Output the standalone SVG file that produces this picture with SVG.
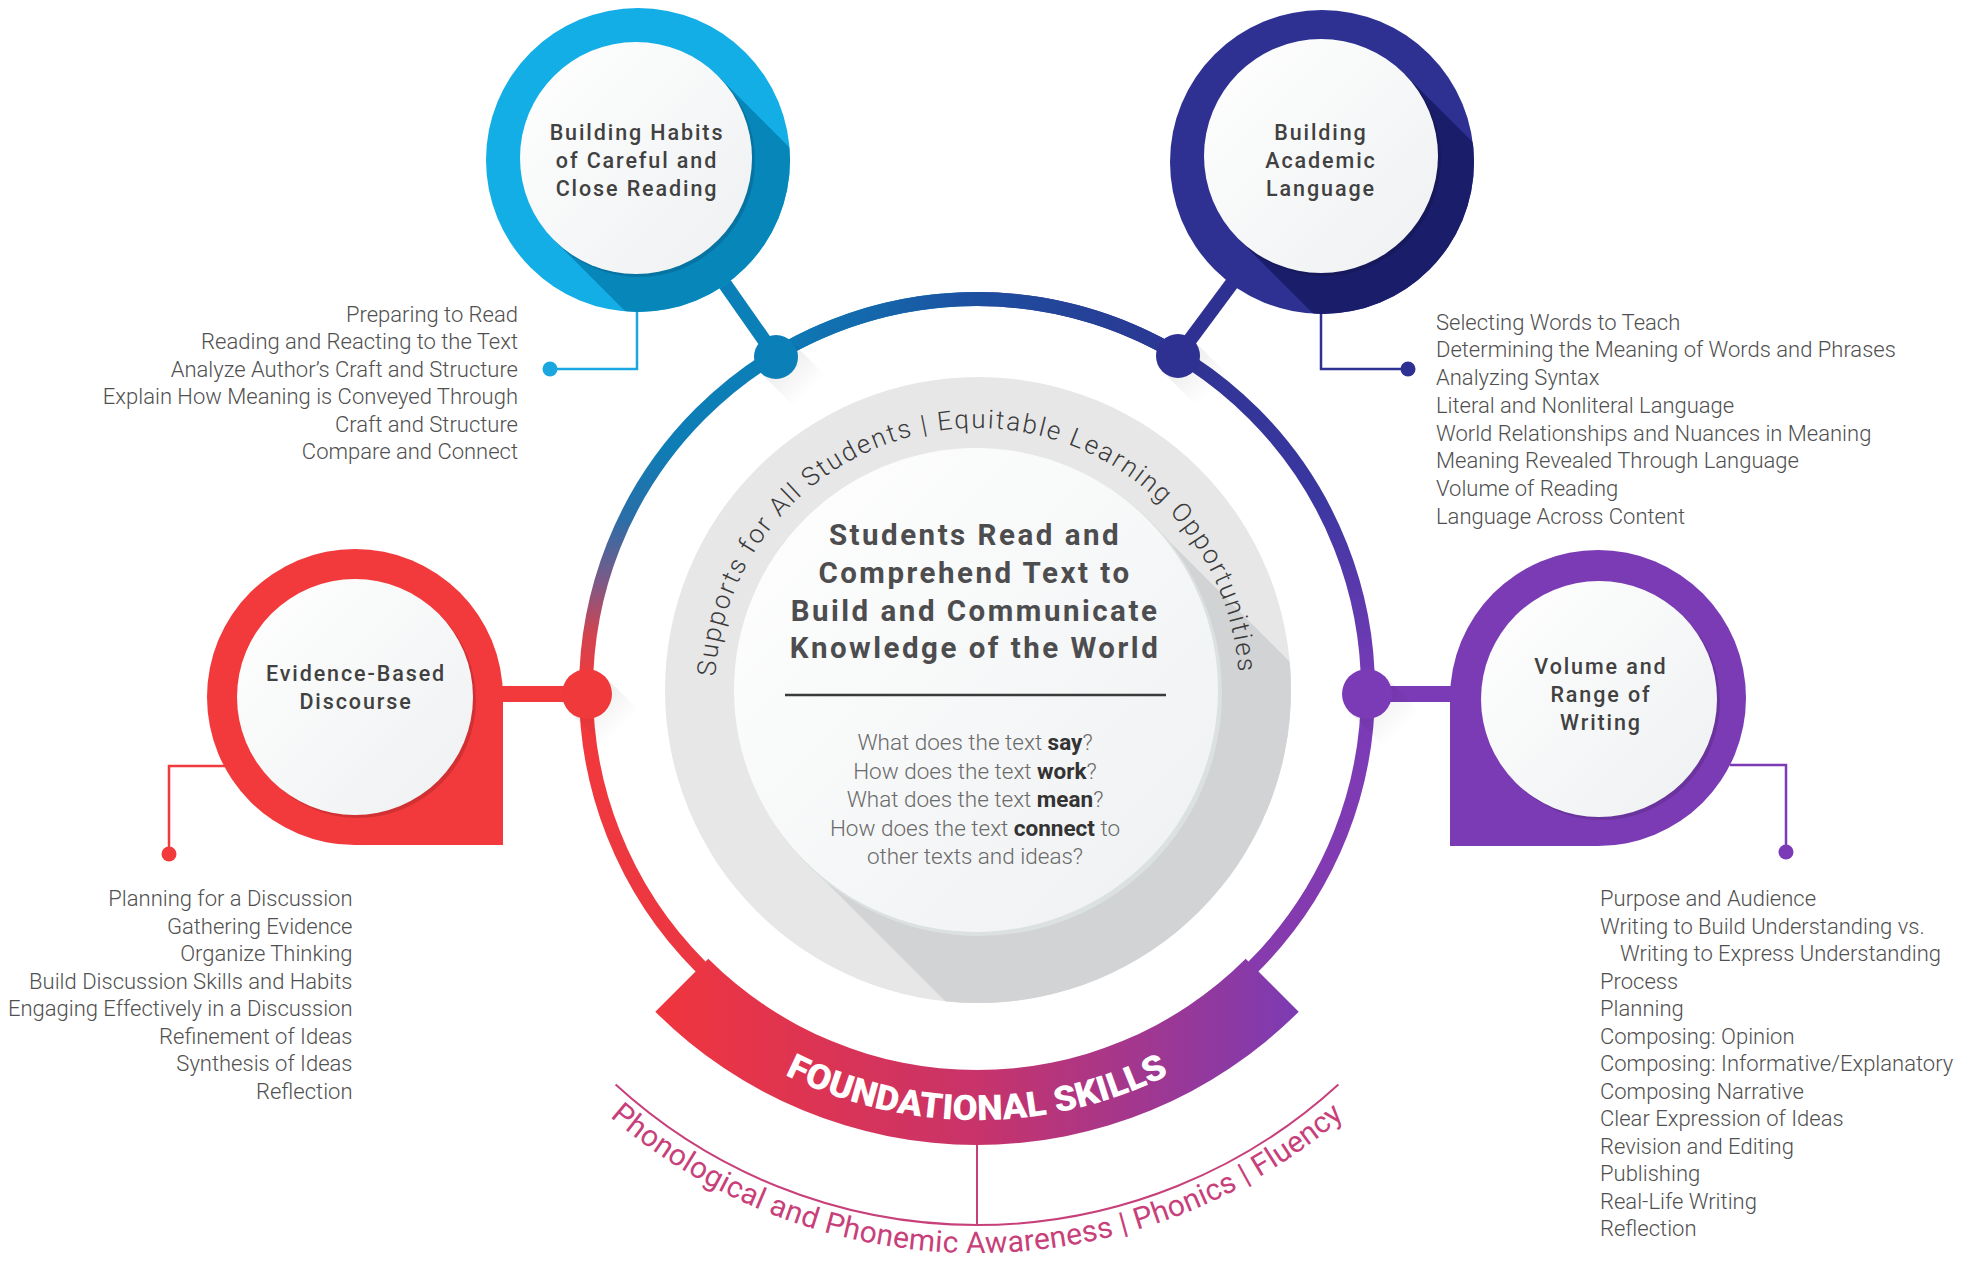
<svg xmlns="http://www.w3.org/2000/svg" width="1969" height="1266" viewBox="0 0 1969 1266">
<defs>
<style>
.list{font-family:Roboto,'Open Sans',sans-serif;font-size:22px;font-weight:300;fill:#505050}
.le{text-anchor:end}
.lbl{font-family:Roboto,'Open Sans',sans-serif;font-size:21.5px;font-weight:500;letter-spacing:1.9px;fill:#414141;text-anchor:middle}
.head{font-family:Roboto,'Open Sans',sans-serif;font-size:29.5px;font-weight:700;letter-spacing:2.5px;fill:#4d4d4f;text-anchor:middle}
.q{font-family:Roboto,'Open Sans',sans-serif;font-size:22.5px;font-weight:300;fill:#6a6a6a;text-anchor:middle}
.b{font-weight:700;fill:#333}
.arc{font-family:Roboto,'Open Sans',sans-serif;font-size:26px;font-weight:300;fill:#3a3a3a}
.found{font-family:Roboto,'Open Sans',sans-serif;font-size:35px;font-weight:900;fill:#fff}
.phon{font-family:Roboto,'Open Sans',sans-serif;font-size:30px;font-weight:400;fill:#c8407a}
.lead{fill:none;stroke-width:2.5}
.disk{fill:url(#gDisk)}
.dshadow{fill:#000;opacity:.13}
.shd{fill:url(#gShd)}
</style>
<linearGradient id="gLeft" gradientUnits="userSpaceOnUse" x1="0" y1="299" x2="0" y2="1081">
<stop offset="0" stop-color="#0b7fb8"/>
<stop offset="0.19" stop-color="#0e7db5"/>
<stop offset="0.28" stop-color="#2a6ea8"/>
<stop offset="0.36" stop-color="#7a5a88"/>
<stop offset="0.43" stop-color="#d2434f"/>
<stop offset="0.5" stop-color="#f2393b"/>
<stop offset="1" stop-color="#e83646"/>
</linearGradient>
<linearGradient id="gRight" gradientUnits="userSpaceOnUse" x1="0" y1="299" x2="0" y2="1081">
<stop offset="0" stop-color="#2d3390"/>
<stop offset="0.25" stop-color="#3a37a0"/>
<stop offset="0.5" stop-color="#7a3bb8"/>
<stop offset="1" stop-color="#8b3aa8"/>
</linearGradient>
<linearGradient id="gTop" gradientUnits="userSpaceOnUse" x1="758" y1="0" x2="1196" y2="0">
<stop offset="0" stop-color="#0b80b8"/>
<stop offset="0.5" stop-color="#1d4fa0"/>
<stop offset="1" stop-color="#2d3390"/>
</linearGradient>
<linearGradient id="gBand" gradientUnits="userSpaceOnUse" x1="655" y1="0" x2="1299" y2="0">
<stop offset="0" stop-color="#f0353d"/>
<stop offset="0.5" stop-color="#c8336a"/>
<stop offset="1" stop-color="#7c3bb3"/>
</linearGradient>
<linearGradient id="gDisk" x1="0" y1="0" x2="1" y2="1">
<stop offset="0" stop-color="#ffffff"/>
<stop offset="1" stop-color="#eef0f1"/>
</linearGradient>
<linearGradient id="gShd" x1="0" y1="0" x2="1" y2="1">
<stop offset="0" stop-color="#000" stop-opacity="0.12"/>
<stop offset="0.7" stop-color="#000" stop-opacity="0"/>
</linearGradient>
<clipPath id="cpCenter"><circle cx="978" cy="690" r="313"/></clipPath>
<clipPath id="cpTL"><circle cx="638" cy="160" r="152"/></clipPath>
<clipPath id="cpTR"><circle cx="1322" cy="162" r="152"/></clipPath>
<path id="arcTop" d="M715.4,676.3 A262,262 0 0 1 1238.4,671.7"/>
<path id="arcFound" d="M672.9,994.1 A430,430 0 0 0 1281.1,994.1"/>
<path id="arcPhon" d="M578.9,1088.1 A563,563 0 0 0 1375.1,1088.1"/>
</defs>
<rect width="1969" height="1266" fill="#fff"/>

<g id="center">
<circle cx="978" cy="690" r="313" fill="#e7e7e8"/>
<polygon clip-path="url(#cpCenter)" points="1147,519 1547,919 1205,1261 805,861" fill="#d2d3d5"/>
<circle cx="979" cy="693" r="243" fill="#dbe0e0"/>
<circle cx="976" cy="690" r="242" class="disk"/>
<text class="arc"><textPath href="#arcTop" textLength="791" lengthAdjust="spacing">Supports for All Students | Equitable Learning Opportunities</textPath></text>
<text class="head" x="975" y="545">Students Read and</text>
<text class="head" x="975" y="583">Comprehend Text to</text>
<text class="head" x="975" y="621">Build and Communicate</text>
<text class="head" x="975" y="658">Knowledge of the World</text>
<line x1="785" y1="695" x2="1166" y2="695" stroke="#3a3a3a" stroke-width="2.5"/>
<text class="q" x="975" y="750">What does the text <tspan class="b">say</tspan>?</text>
<text class="q" x="975" y="778.5">How does the text <tspan class="b">work</tspan>?</text>
<text class="q" x="975" y="807">What does the text <tspan class="b">mean</tspan>?</text>
<text class="q" x="975" y="835.5">How does the text <tspan class="b">connect</tspan> to</text>
<text class="q" x="975" y="864">other texts and ideas?</text>
</g>

<g id="ring">
<path d="M977,299 A391,391 0 0 0 977,1081" fill="none" stroke="url(#gLeft)" stroke-width="14"/>
<path d="M977,299 A391,391 0 0 1 977,1081" fill="none" stroke="url(#gRight)" stroke-width="14"/>
<path d="M758.4,365.9 A391,391 0 0 1 1195.6,365.9" fill="none" stroke="url(#gTop)" stroke-width="14"/>
</g>

<g id="foundational-skills">
<path d="M655.3,1011.7 A455,455 0 0 0 1298.7,1011.7 L1245.7,958.7 A380,380 0 0 1 708.3,958.7 Z" fill="url(#gBand)"/>
<text class="found"><textPath href="#arcFound" startOffset="50%" text-anchor="middle" textLength="398" lengthAdjust="spacingAndGlyphs">FOUNDATIONAL SKILLS</textPath></text>
<path d="M615.6,1084.5 A535,535 0 0 0 1338.4,1084.5" fill="none" stroke="#c8407a" stroke-width="2"/>
<line x1="977" y1="1145" x2="977" y2="1225" stroke="#c8407a" stroke-width="2"/>
<text class="phon"><textPath href="#arcPhon" startOffset="50%" text-anchor="middle" textLength="800" lengthAdjust="spacing">Phonological and Phonemic Awareness | Phonics | Fluency</textPath></text>
</g>

<g id="connectors">
<line x1="638" y1="160" x2="776" y2="357" stroke="#0b7fb7" stroke-width="14"/>
<line x1="1322" y1="162" x2="1178" y2="356" stroke="#2e3192" stroke-width="14"/>
<line x1="480" y1="694" x2="587" y2="694" stroke="#f2393b" stroke-width="16"/>
<line x1="1367" y1="694" x2="1470" y2="694" stroke="#7b3bb6" stroke-width="16"/>
<path class="lead" d="M637,300 V369 H550" stroke="#1aa6df"/>
<circle cx="550" cy="369" r="7.5" fill="#1aa6df"/>
<path class="lead" d="M1321,300 V369 H1408" stroke="#2e3192"/>
<circle cx="1408" cy="369" r="7.5" fill="#2e3192"/>
<path class="lead" d="M225,766 H169 V854" stroke="#f2393b"/>
<circle cx="169" cy="854" r="7.5" fill="#f2393b"/>
<path class="lead" d="M1730,765 H1786 V852" stroke="#7b3bb6"/>
<circle cx="1786" cy="852" r="7.5" fill="#7b3bb6"/>
</g>

<g id="hub-nodes">
<polygon class="shd" points="791.6,341.4 831.6,381.4 800.4,412.6 760.4,372.6"/>
<circle cx="776" cy="357" r="22" fill="#0b7fb7"/>
<polygon class="shd" points="1193.6,340.4 1233.6,380.4 1202.4,411.6 1162.4,371.6"/>
<circle cx="1178" cy="356" r="22" fill="#2e3192"/>
<polygon class="shd" points="604.7,676.3 644.7,716.3 609.3,751.7 569.3,711.7"/>
<circle cx="587" cy="694" r="25" fill="#f0393b"/>
<polygon class="shd" points="1384.7,676.3 1424.7,716.3 1389.3,751.7 1349.3,711.7"/>
<circle cx="1367" cy="694" r="25" fill="#7b3bb6"/>
</g>

<g id="node-close-reading">
<circle cx="638" cy="160" r="152" fill="#13aee6"/>
<polygon clip-path="url(#cpTL)" points="718,76 918,276 754,440 554,240" fill="#0786ba"/>
<circle cx="639" cy="161" r="116" class="dshadow"/>
<circle cx="636" cy="158" r="116" class="disk"/>
<text class="lbl" x="637" y="140">Building Habits</text>
<text class="lbl" x="637" y="168">of Careful and</text>
<text class="lbl" x="637" y="196">Close Reading</text>
</g>
<g id="list-close-reading">
<text class="list le" x="518" y="321.7">Preparing to Read</text>
<text class="list le" x="518" y="349.3">Reading and Reacting to the Text</text>
<text class="list le" x="518" y="376.7">Analyze Author’s Craft and Structure</text>
<text class="list le" x="518" y="404.3">Explain How Meaning is Conveyed Through</text>
<text class="list le" x="518" y="431.7">Craft and Structure</text>
<text class="list le" x="518" y="459.3">Compare and Connect</text>
</g>

<g id="node-academic-language">
<circle cx="1322" cy="162" r="152" fill="#2e3192"/>
<polygon clip-path="url(#cpTR)" points="1403.7,73.3 1603.7,273.3 1438.3,438.7 1238.3,238.7" fill="#1a1d6a"/>
<circle cx="1324" cy="159" r="117" class="dshadow"/>
<circle cx="1321" cy="156" r="117" class="disk"/>
<text class="lbl" x="1321" y="140">Building</text>
<text class="lbl" x="1321" y="168">Academic</text>
<text class="lbl" x="1321" y="196">Language</text>
</g>
<g id="list-academic-language">
<text class="list" x="1436" y="329.5">Selecting Words to Teach</text>
<text class="list" x="1436" y="357.3">Determining the Meaning of Words and Phrases</text>
<text class="list" x="1436" y="385">Analyzing Syntax</text>
<text class="list" x="1436" y="412.8">Literal and Nonliteral Language</text>
<text class="list" x="1436" y="440.6">World Relationships and Nuances in Meaning</text>
<text class="list" x="1436" y="468.4">Meaning Revealed Through Language</text>
<text class="list" x="1436" y="496.2">Volume of Reading</text>
<text class="list" x="1436" y="524">Language Across Content</text>
</g>

<g id="node-discourse">
<path d="M503,697 A148,148 0 0 0 355,549 A148,148 0 0 0 207,697 A148,148 0 0 0 355,845 L503,845 Z" fill="#f2393b"/>
<circle cx="358" cy="700" r="118" class="dshadow"/>
<circle cx="355" cy="697" r="118" class="disk"/>
<text class="lbl" x="356" y="681">Evidence-Based</text>
<text class="lbl" x="356" y="709">Discourse</text>
</g>
<g id="list-discourse">
<text class="list le" x="352.5" y="906">Planning for a Discussion</text>
<text class="list le" x="352.5" y="933.5">Gathering Evidence</text>
<text class="list le" x="352.5" y="961">Organize Thinking</text>
<text class="list le" x="352.5" y="988.5">Build Discussion Skills and Habits</text>
<text class="list le" x="352.5" y="1016">Engaging Effectively in a Discussion</text>
<text class="list le" x="352.5" y="1043.5">Refinement of Ideas</text>
<text class="list le" x="352.5" y="1071">Synthesis of Ideas</text>
<text class="list le" x="352.5" y="1098.5">Reflection</text>
</g>

<g id="node-writing">
<path d="M1450,698 A148,148 0 0 1 1598,550 A148,148 0 0 1 1746,698 A148,148 0 0 1 1598,846 L1450,846 Z" fill="#7a3bb5"/>
<circle cx="1602" cy="702" r="118" class="dshadow"/>
<circle cx="1599" cy="699" r="118" class="disk"/>
<text class="lbl" x="1601" y="674">Volume and</text>
<text class="lbl" x="1601" y="702">Range of</text>
<text class="lbl" x="1601" y="730">Writing</text>
</g>
<g id="list-writing">
<text class="list" x="1600" y="906">Purpose and Audience</text>
<text class="list" x="1600" y="933.5">Writing to Build Understanding vs.</text>
<text class="list" x="1620" y="961">Writing to Express Understanding</text>
<text class="list" x="1600" y="988.5">Process</text>
<text class="list" x="1600" y="1016">Planning</text>
<text class="list" x="1600" y="1043.5">Composing: Opinion</text>
<text class="list" x="1600" y="1071">Composing: Informative/Explanatory</text>
<text class="list" x="1600" y="1098.5">Composing Narrative</text>
<text class="list" x="1600" y="1126">Clear Expression of Ideas</text>
<text class="list" x="1600" y="1153.5">Revision and Editing</text>
<text class="list" x="1600" y="1181">Publishing</text>
<text class="list" x="1600" y="1208.5">Real-Life Writing</text>
<text class="list" x="1600" y="1236">Reflection</text>
</g>
</svg>
